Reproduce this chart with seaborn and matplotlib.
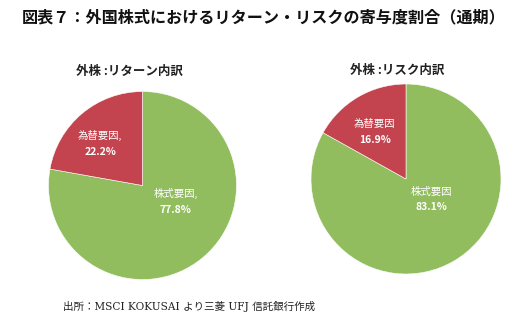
import matplotlib
matplotlib.use("Agg")
import matplotlib.pyplot as plt
import seaborn as sns

sns.set_theme(style="white")
plt.rcParams['font.family'] = ['Noto Sans CJK JP', 'DejaVu Sans']

title = "図表７：外国株式におけるリターン・リスクの寄与度割合（通期）"
source = "出所：MSCI KOKUSAI より三菱 UFJ 信託銀行作成"

categories = ["株式要因", "為替要因"]
return_values = [77.8, 22.2]
risk_values = [83.1, 16.9]
subtitles = ["外株 :リターン内訳", "外株 :リスク内訳"]
colors = ["#92bd5e", "#c3444f"]

W, H = 511, 323
fig = plt.figure(figsize=(W / 100, H / 100), dpi=100)
fig.patch.set_facecolor("white")

def add_pie(cx, cy, r, values, sub, sub_x, sub_y, label_pos, comma):
    ax = fig.add_axes([(cx - r) / W, (H - cy - r) / H, 2 * r / W, 2 * r / H])
    ax.pie(values, colors=colors, startangle=90, counterclock=False, radius=1,
           wedgeprops=dict(linewidth=0.4, edgecolor="white"))
    ax.set_xlim(-1, 1)
    ax.set_ylim(-1, 1)
    ax.set_aspect("equal")
    ax.axis("off")
    sep = "," if comma else ""
    for cat, val, (lx, ly) in zip(categories, values, label_pos):
        ax.text(lx, ly + 0.07, cat + sep, color="white", ha="center", va="center",
                fontsize=7.5)
        ax.text(lx, ly - 0.1, f"{val:.1f}%", color="white", ha="center", va="center",
                fontsize=7.5, fontweight="bold")
    fig.text(sub_x / W, 1 - sub_y / H, sub, ha="center", va="center",
             fontsize=9, fontweight="bold", color="#222222")

add_pie(142.5, 185.5, 94, return_values, subtitles[0], 129, 71,
        [(0.35, -0.16), (-0.45, 0.46)], True)
add_pie(406, 179, 95, risk_values, subtitles[1], 397, 70,
        [(0.27, -0.2), (-0.33, 0.51)], False)

fig.text(22 / W, 1 - 17 / H, title, ha="left", va="center", fontsize=11.6,
         fontweight="bold", color="#111111")
fig.text(63 / W, 1 - 307 / H, source, ha="left", va="center", fontsize=7.6,
         family=["DejaVu Serif", "Noto Sans CJK JP"], color="#222222")

fig.savefig("out.png", dpi=100)
